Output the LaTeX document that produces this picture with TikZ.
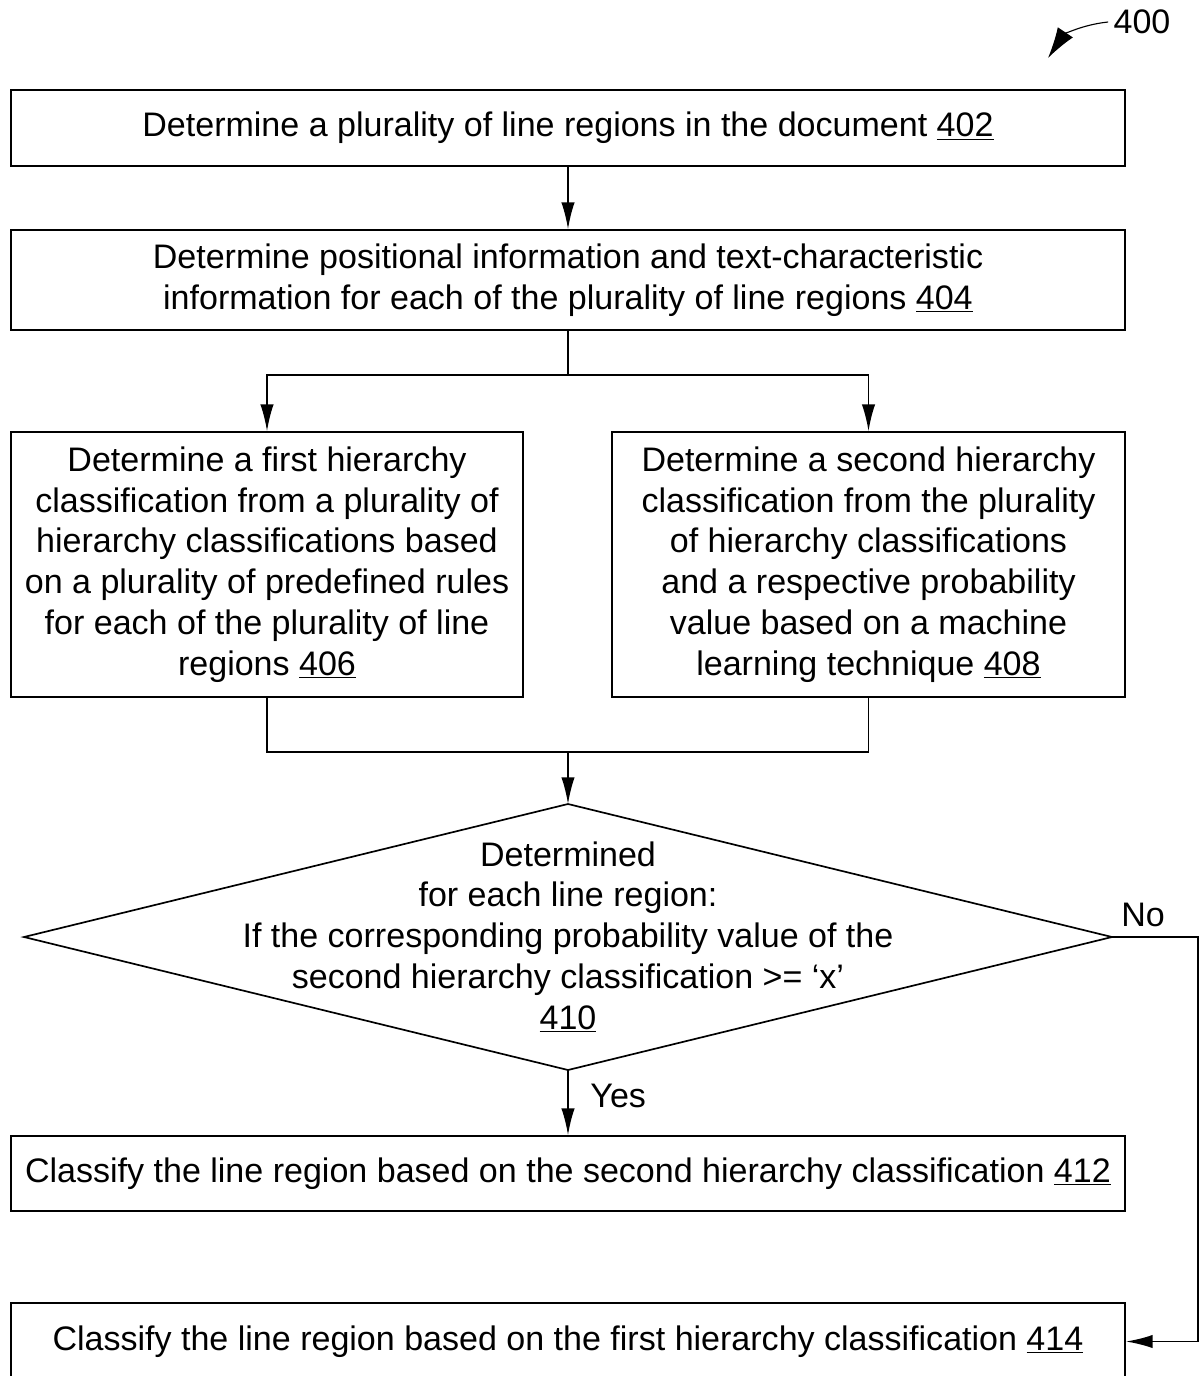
\documentclass[tikz,border=0pt]{standalone}
\usepackage{fontspec}
\setmainfont{Liberation Sans}
\usetikzlibrary{arrows.meta}
\begin{document}
\begin{tikzpicture}[x=0.025cm,y=-0.025cm,line width=1.2pt,
  font=\fontsize{24.2}{29}\selectfont,
  >={Latex[length=19pt,width=9.5pt]},
  blk/.style={draw,rectangle,align=center,inner sep=0pt,minimum width=27.85cm}]
\useasboundingbox (0,0) rectangle (1201,1376);
%boxes
\node[blk,minimum height=1.9cm] (b402) at (568,128) {Determine a plurality of line regions in the document \underline{402}};
\node[blk,minimum height=2.5cm] (b404) at (568,280) {Determine positional information and text-characteristic\\information for each of the plurality of line regions \underline{404}};
\node[blk,minimum width=12.8cm,minimum height=6.625cm] (b406) at (267,564.5) {Determine a first hierarchy\\classification from a plurality of\\hierarchy classifications based\\on a plurality of predefined rules\\for each of the plurality of line\\regions \underline{406}};
\node[blk,minimum width=12.825cm,minimum height=6.625cm] (b408) at (868.5,564.5) {Determine a second hierarchy\\classification from the plurality\\of hierarchy classifications\\and a respective probability\\value based on a machine\\learning technique \underline{408}};
\node[blk,minimum height=1.875cm] (b412) at (568,1173.5) {Classify the line region based on the second hierarchy classification \underline{412}};
\node[blk,minimum height=1.925cm] (b414) at (568,1341.5) {Classify the line region based on the first hierarchy classification \underline{414}};
%decision
\coordinate (dt) at (568,804);
\coordinate (dr) at (1112,937);
\coordinate (db) at (568,1070);
\coordinate (dl) at (24,937);
\draw (dt)--(dr)--(db)--(dl)--cycle;
\node[align=center,inner sep=0pt] (d410) at (568,937) {Determined\\for each line region:\\If the corresponding probability value of the\\second hierarchy classification >= ‘x’\\\underline{410}};
%arrows
\draw[->] (b402)--(b404);
\coordinate (split) at (568,375);
\draw (b404.south)--(split);
\draw[->] (split)-|(b406.north);
\draw[->] (split)-|(b408.north);
\coordinate (join) at (568,752);
\draw (b406.south)|-(join);
\draw (b408.south)|-(join);
\draw[->] (join)--(dt);
\draw[->] (db)--node[right=12pt,pos=0.4]{Yes}(b412);
\coordinate (noc) at (1198,937);
\draw[->] (dr)--(noc)|-(b414.east);
\node (nolbl) at (1143,915) {No};
%label
\node (n400) at (1142,22) {400};
\coordinate (t400) at (1048,58);
\draw[-{Latex[length=22pt,width=13pt]},line width=0.8pt] (n400.west) to[bend right=25] (t400);
\end{tikzpicture}
\end{document}
